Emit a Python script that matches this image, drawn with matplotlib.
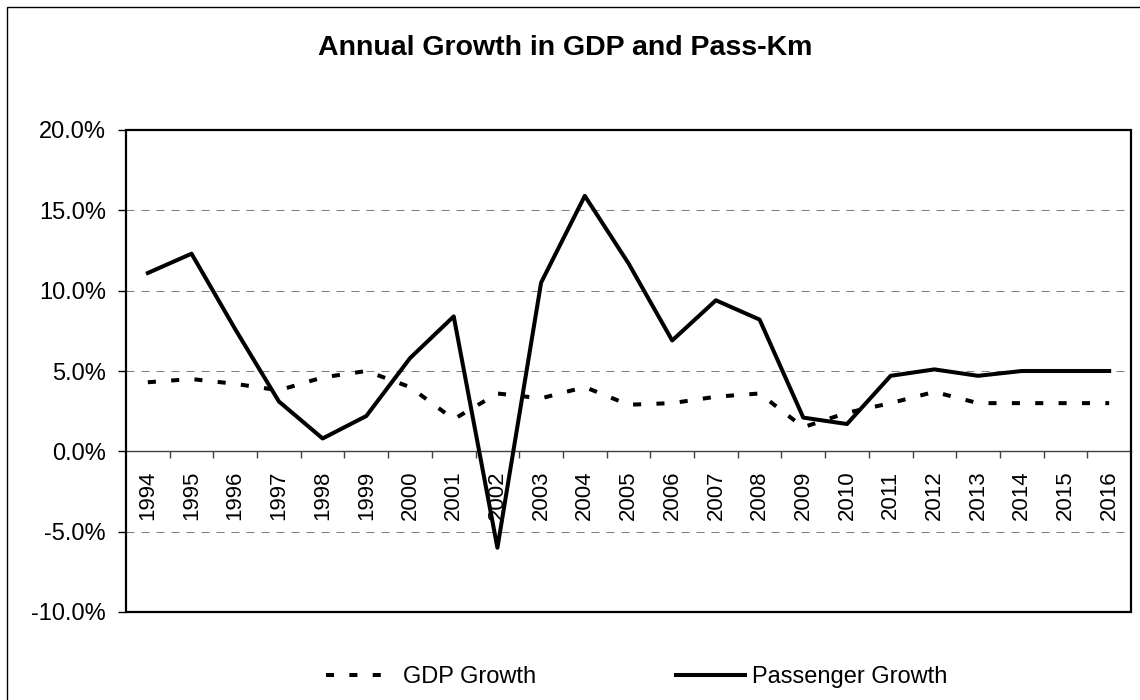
import matplotlib
matplotlib.use("Agg")
import matplotlib.pyplot as plt
from matplotlib.patches import Rectangle
from matplotlib.ticker import FixedLocator, FuncFormatter

YEARS = [str(y) for y in range(1994, 2017)]
GDP_GROWTH = [4.3, 4.5, 4.2, 3.8, 4.6, 5.0, 4.0, 2.0, 3.6, 3.3, 4.0, 2.9, 3.0,
              3.4, 3.6, 1.5, 2.4, 3.0, 3.7, 3.0, 3.0, 3.0, 3.0]
PASSENGER_GROWTH = [11.1, 12.3, 7.6, 3.1, 0.8, 2.2, 5.8, 8.4, -6.0, 10.5, 15.9,
                    11.7, 6.9, 9.4, 8.2, 2.1, 1.7, 4.7, 5.1, 4.7, 5.0, 5.0, 5.0]
Y_TICKS = [-10, -5, 0, 5, 10, 15, 20]
GRID_LEVELS = [-5, 5, 10, 15]

W, H = 1140, 700
FONT = ["Liberation Sans", "DejaVu Sans"]


def main():
    plt.rcParams["font.family"] = FONT
    fig = plt.figure(figsize=(W / 100, H / 100), dpi=100)
    ax = fig.add_axes([126 / W, 1 - 612 / H, (1131 - 126) / W, (612 - 130) / H])

    x = list(range(len(YEARS)))

    for level in GRID_LEVELS:
        ax.axhline(level, color="#808080", linewidth=0.75,
                   linestyle=(0, (7.7, 6.7)), zorder=1)

    ax.plot(x, GDP_GROWTH, color="black", linewidth=2.9,
            linestyle=(0, (2.0, 3.8)), label="GDP Growth", zorder=3)
    ax.plot(x, PASSENGER_GROWTH, color="black", linewidth=2.9,
            label="Passenger Growth", zorder=4)

    ax.set_xlim(-0.5, len(YEARS) - 0.5)
    ax.set_ylim(-10, 20)

    # x axis sits on zero, plot area keeps a full border
    for side in ["top", "right", "left"]:
        ax.spines[side].set_visible(False)
    ax.spines["bottom"].set_position(("data", 0))
    ax.spines["bottom"].set_color("#404040")
    ax.spines["bottom"].set_linewidth(1.0)
    ax.add_patch(Rectangle((0, 0), 1, 1, transform=ax.transAxes, fill=False,
                           edgecolor="black", linewidth=1.6, zorder=5,
                           clip_on=False))

    ax.set_xticks(x)
    ax.set_xticklabels(YEARS, rotation=90, fontsize=16)
    ax.xaxis.set_minor_locator(FixedLocator([i + 0.5 for i in x[:-1]]))
    ax.tick_params(axis="x", which="major", length=0, pad=14)
    ax.tick_params(axis="x", which="minor", length=5, width=1.0,
                   direction="out", color="#404040")
    for lab in ax.get_xticklabels():
        lab.set_verticalalignment("top")

    ax.yaxis.set_major_locator(FixedLocator(Y_TICKS))
    ax.yaxis.set_major_formatter(FuncFormatter(lambda v, p: f"{v:.1f}%"))
    ax.tick_params(axis="y", length=5.5, width=1.0, direction="out",
                   labelsize=17, pad=9)

    fig.text(565 / W, 1 - 48 / H, "Annual Growth in GDP and Pass-Km",
             ha="center", va="center", fontsize=20.5, fontweight="bold")

    fig.legend(loc="center", bbox_to_anchor=(637 / W, 1 - 677 / H), ncol=2,
               frameon=False, fontsize=17, handlelength=2.95,
               handletextpad=0.3, columnspacing=5.9)

    fig.patches.append(Rectangle((7 / W, -0.1), 2, 1.1 - 7 / H,
                                 transform=fig.transFigure, fill=False,
                                 edgecolor="black", linewidth=1.0))

    fig.savefig("out.png", dpi=100)
    plt.close(fig)


if __name__ == "__main__":
    main()
